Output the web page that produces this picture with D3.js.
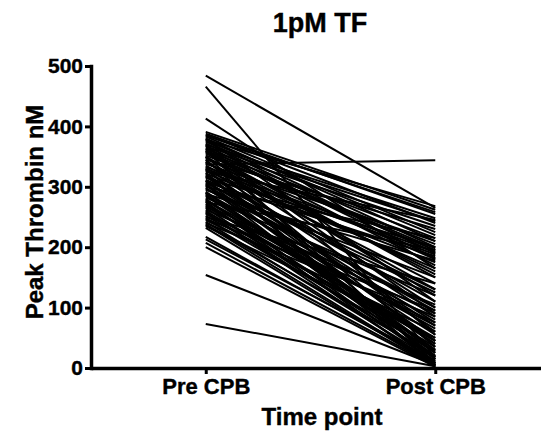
<!DOCTYPE html>
<html>
<head>
<meta charset="utf-8">
<script src="https://cdn.jsdelivr.net/npm/d3@7"></script>
<style>
  body { margin: 0; background: #fff; }
  text { font-family: "Liberation Sans", Arial, sans-serif; font-weight: bold; fill: #000; }
</style>
</head>
<body>
<div id="chart"></div>
<script>
// Data ---------------------------------------------------
const timePoints = ["Pre CPB", "Post CPB"]
const yTicks = [0, 100, 200, 300, 400, 500]

// one entry per patient
const preCPB = [
  484, 466, 413, 337, 154, 73, 217, 213, 207, 200,
  391, 388, 386, 383, 380, 378, 375, 372, 370, 368,
  365, 362, 360, 357, 355, 352, 350, 348, 345, 342,
  340, 338, 335, 332, 330, 328, 325, 322, 320, 318,
  315, 312, 310, 308, 305, 302, 300, 298, 295, 292,
  290, 288, 285, 282, 280, 278, 275, 272, 270, 268,
  265, 262, 260, 258, 255, 252, 250, 248, 245, 242,
  240, 238, 235, 232, 360, 345, 330, 310, 290, 275,
  370, 380, 350, 385, 377, 367, 358, 349, 341, 333,
  327, 317, 306, 297, 287, 277, 267, 257, 247, 237,
  363, 323, 303
]
const postCPB = [
  265, 18, 165, 344, 5, 3, 8, 12, 4, 2,
  262, 255, 240, 225, 210, 268, 200, 190, 248, 182,
  170, 235, 215, 150, 195, 205, 120, 180, 230, 100,
  160, 210, 140, 85, 188, 60, 245, 175, 110, 45,
  200, 130, 70, 185, 30, 95, 215, 55, 150, 20,
  80, 178, 40, 120, 10, 65, 195, 25, 90, 50,
  15, 105, 35, 6, 75, 45, 140, 28, 60, 12,
  85, 20, 50, 3, 8, 15, 5, 25, 40, 2,
  55, 110, 35, 258, 220, 243, 198, 155, 130, 192,
  165, 75, 125, 100, 30, 45, 70, 18, 95, 5,
  90, 15, 8
]

// Canvas setup -----------------------------------------
const WIDTH = 541
const HEIGHT = 434
const MARGIN = {LEFT: 91, TOP: 66, BOTTOM: 66}

const svg = d3.select("#chart").append("svg")
  .attr("width", WIDTH)
  .attr("height", HEIGHT)

const x = d3.scalePoint()
  .domain(timePoints)
  .range([MARGIN.LEFT, 550])
  .padding(0.5)

const y = d3.scaleLinear()
  .domain([0, 500])
  .range([HEIGHT - MARGIN.BOTTOM, MARGIN.TOP])

// Paired lines -----------------------------------------
const pairs = preCPB.map((d, i) => [d, postCPB[i]])
const line = d3.line()
  .x((d, i) => x(timePoints[i]))
  .y(d => y(d))

svg.append("g")
  .selectAll("path")
  .data(pairs)
  .enter().append("path")
    .attr("d", line)
    .attr("fill", "none")
    .attr("stroke", "#000")
    .attr("stroke-width", 2)

// Axes -------------------------------------------------
function styleTicks(sel, size) {
  sel.selectAll(".tick text")
    .attr("font-size", size)
    .attr("font-family", "Liberation Sans, Arial, sans-serif")
    .attr("font-weight", "bold")
    .attr("fill", "#000")
    .attr("stroke", "#000")
    .attr("stroke-width", 0.4)
}

const yAxis = svg.append("g")
  .attr("transform", `translate(${MARGIN.LEFT}, 0)`)
  .call(d3.axisLeft(y).tickValues(yTicks).tickSize(6).tickSizeOuter(0).tickPadding(2))
yAxis.select(".domain").attr("stroke-width", 3.5).attr("stroke-linecap", "square")
yAxis.selectAll(".tick line").attr("stroke-width", 3)
styleTicks(yAxis, "21px")

const xAxis = svg.append("g")
  .attr("transform", `translate(0, ${y(0)})`)
  .call(d3.axisBottom(x).tickSize(6).tickSizeOuter(0).tickPadding(4))
xAxis.select(".domain").attr("stroke-width", 3.5)
xAxis.selectAll(".tick line").attr("stroke-width", 3)
styleTicks(xAxis, "22px")

// Labels -----------------------------------------------
svg.append("text")
  .text("1pM TF")
  .attr("x", 320)
  .attr("y", 32)
  .attr("text-anchor", "middle")
  .attr("font-size", "27px")
  .attr("stroke", "#000")
  .attr("stroke-width", 0.4)

svg.append("text")
  .text("Time point")
  .attr("x", 322)
  .attr("y", 425)
  .attr("text-anchor", "middle")
  .attr("font-size", "24px")
  .attr("stroke", "#000")
  .attr("stroke-width", 0.4)

svg.append("text")
  .text("Peak Thrombin nM")
  .attr("transform", `translate(43, 212) rotate(-90)`)
  .attr("text-anchor", "middle")
  .attr("font-size", "24px")
  .attr("stroke", "#000")
  .attr("stroke-width", 0.4)
</script>
</body>
</html>
